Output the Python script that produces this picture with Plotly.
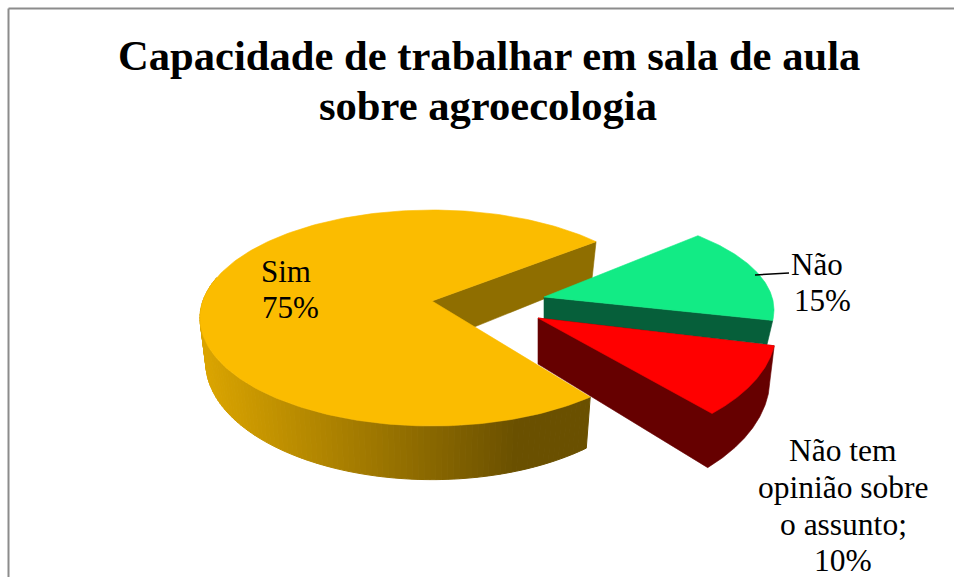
import math
import plotly.graph_objects as go

# ---- data ----
categories = ["Sim", "Não", "Não tem opinião sobre o assunto"]
shares = [75, 15, 10]
percent_labels = ["75%", "15%", "10%"]
start_angle = 135

# ---- pseudo-3D projection per slice (pixel space of the 954x577 page) ----
apex = [(432, 301), (544, 297), (538, 318)]
rim_center = [(432, 318), (544, 310), (538, 331)]
rim_radii = [(232, 108), (230, 100), (238, 121)]
angle_shift = [0, -3, -2]
sim_front_trim = 2
depth_at_apex = [43, 22, 46]
top_colors = ["#FBBC00", "#12EB85", "#FF0000"]
side_colors = ["#8F6E00", "#065F3A", "#660000"]
DEPTH_SLOPE = 0.085
X_SHRINK = 0.975


def rim(i, deg):
    cx, cy = rim_center[i]
    rx, ry = rim_radii[i]
    a = math.radians(deg)
    return cx + rx * math.sin(a), cy - ry * math.cos(a)


def lower(i, p):
    ax, ay = apex[i]
    cx = rim_center[i][0]
    return cx + (p[0] - cx) * X_SHRINK, p[1] + depth_at_apex[i] + DEPTH_SLOPE * (p[1] - ay)


def arc(i, a0, a1, n=120):
    return [rim(i, a0 + (a1 - a0) * k / n) for k in range(n + 1)]


def poly(fig, pts, color, lw=0.6):
    fig.add_trace(go.Scatter(
        x=[p[0] for p in pts] + [pts[0][0]],
        y=[p[1] for p in pts] + [pts[0][1]],
        mode="lines", fill="toself", fillcolor=color,
        line=dict(color=color, width=lw), hoverinfo="skip", showlegend=False))


def mix(c0, c1, t):
    t = max(0.0, min(1.0, t))
    return "rgb(%d,%d,%d)" % tuple(round(a + (b - a) * t) for a, b in zip(c0, c1))


# slice angular spans from the shares
spans = []
cur = start_angle
for s in shares:
    sweep = s / sum(shares) * 360
    spans.append((cur, cur + sweep))
    cur += sweep

fig = go.Figure()

# --- Sim ---
a0, a1 = spans[0][0] + sim_front_trim, spans[0][1]
end_pt = rim(0, a1)
poly(fig, [apex[0], end_pt, lower(0, end_pt), lower(0, apex[0])], side_colors[0])
GRAD_L, GRAD_R = (218, 164, 0), (106, 80, 0)
STEP = 1.5
b = a0
while b < 292:
    p0, p1 = rim(0, b), rim(0, min(b + STEP, 292))
    q = lower(0, ((p0[0] + p1[0]) / 2, (p0[1] + p1[1]) / 2))
    t = (q[0] - 210) / (515 - 210)
    poly(fig, [p0, p1, lower(0, p1), lower(0, p0)], mix(GRAD_L, GRAD_R, t), 1)
    b += STEP
poly(fig, [apex[0]] + arc(0, a0, a1, 240), top_colors[0])

# --- Não ---
a0, a1 = spans[1][0] + angle_shift[1], spans[1][1] + angle_shift[1]
end_pt = rim(1, a1)
poly(fig, [apex[1], end_pt, lower(1, end_pt), lower(1, apex[1])], side_colors[1])
poly(fig, [apex[1]] + arc(1, a0, a1), top_colors[1])

# --- Não tem opinião ---
a0, a1 = spans[2][0] + angle_shift[2], spans[2][1] + angle_shift[2]
top_arc = arc(2, a0, a1)
poly(fig, [apex[2], top_arc[0]] + [lower(2, p) for p in top_arc] + [lower(2, apex[2])],
     side_colors[2])
poly(fig, [apex[2]] + top_arc, top_colors[2])

# leader line
fig.add_trace(go.Scatter(x=[755, 789], y=[275, 273], mode="lines",
                         line=dict(color="black", width=1.5),
                         hoverinfo="skip", showlegend=False))

SERIF = "Liberation Serif"


def txt(x, y, s, size=31.5, bold=False, anchor="center"):
    fig.add_annotation(x=x, y=y, xref="x", yref="y", text=f"<b>{s}</b>" if bold else s,
                       showarrow=False, xanchor=anchor, yanchor="middle",
                       font=dict(family=SERIF, size=size, color="black"))


txt(489, 55, "Capacidade de trabalhar em sala de aula", 42.6, True)
txt(488, 105, "sobre agroecologia", 42.6, True)
txt(259, 271, categories[0], size=31, anchor="left")
txt(260, 307, percent_labels[0], size=31, anchor="left")
txt(789, 264, categories[1], size=31, anchor="left")
txt(792, 300, percent_labels[1], size=31, anchor="left")
txt(843, 450, "Não tem")
txt(843, 487, "opinião sobre")
txt(843, 524, "o assunto;")
txt(843, 560, percent_labels[2])

fig.update_layout(
    width=954, height=577, margin=dict(l=0, r=0, t=0, b=0),
    paper_bgcolor="white", plot_bgcolor="white", showlegend=False,
    xaxis=dict(range=[0, 954], visible=False, fixedrange=True),
    yaxis=dict(range=[577, 0], visible=False, fixedrange=True),
    shapes=[dict(type="line", x0=8.5, x1=8.5, y0=8.5, y1=577, line=dict(color="#8C8C8C", width=2)),
            dict(type="line", x0=8.5, x1=954, y0=8.5, y1=8.5, line=dict(color="#8C8C8C", width=2))],
)

fig.write_html("out.html", config={"displayModeBar": False},
               post_script="document.body.style.margin='0';document.body.style.overflow='hidden';")
